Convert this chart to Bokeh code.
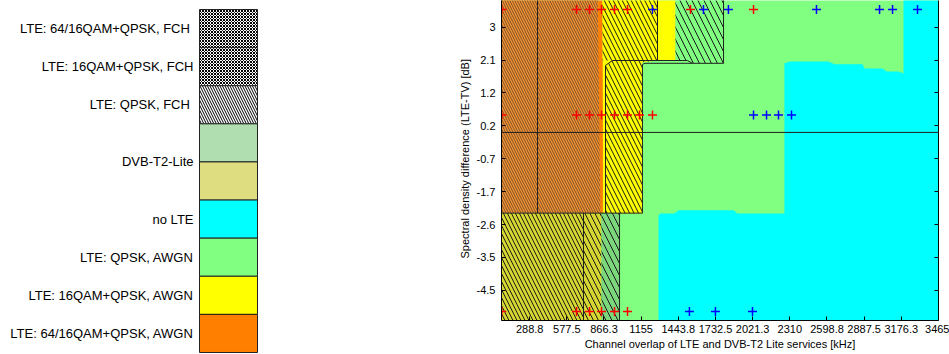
from bokeh.plotting import figure
from bokeh.layouts import row
from bokeh.models import Range1d, FixedTicker, LinearAxis, Span, ColumnDataSource, Title
from bokeh.core.properties import value
from bokeh.embed import file_html
from bokeh.resources import INLINE

FONT = "Liberation Sans"

# ---------------- legend (colour key) ----------------
legend_labels = [
    "LTE: 64/16QAM+QPSK,  FCH",
    "LTE: 16QAM+QPSK, FCH",
    "LTE: QPSK,  FCH",
    "",
    "",
    "no LTE",
    "LTE: QPSK, AWGN",
    "LTE: 16QAM+QPSK, AWGN",
    "LTE: 64/16QAM+QPSK, AWGN",
]
legend_fill = ["white", "white", "white", "#B0DEB0", "#DEDE80",
               "#00FFFF", "#80FF80", "#FFFF00", "#FF8000"]
legend_hatch = ["diagonal_cross", "diagonal_cross", "left_diagonal_line",
                " ", " ", " ", " ", " ", " "]
legend_hatch_scale = [3, 3, 5, 1, 1, 1, 1, 1, 1]
dvb_label = "DVB-T2-Lite"

# ---------------- axes ----------------
x_ticks = [288.75, 577.5, 866.25, 1155, 1443.75, 1732.5, 2021.25, 2310,
           2598.75, 2887.5, 3176.25, 3465]
x_tick_labels = ["288.8", "577.5", "866.3", "1155", "1443.8", "1732.5", "2021.3",
                 "2310", "2598.8", "2887.5", "3176.3", "3465"]
y_ticks = [-4.5, -3.5625, -2.625, -1.6875, -0.75, 0.1875, 1.125, 2.0625, 3.0]
y_tick_labels = ["-4.5", "-3.5", "-2.6", "-1.7", "-0.7", "0.2", "1.2", "2.1", "3"]

# ---------------- regions (kHz, dB) ----------------
no_lte_x = [1290, 1290, 1305, 1414, 1445, 1872, 1903, 2268, 2268, 2315, 2610, 2657,
            2875, 2890, 3030, 3061, 3154, 3193, 3193, 3470, 3470]
no_lte_y = [-5.5, -2.37, -2.31, -2.31, -2.22, -2.22, -2.31, -2.31, 1.97, 2.02, 2.02, 1.94,
            1.94, 1.82, 1.82, 1.74, 1.74, 1.68, 3.9, 3.9, -5.5]

awgn64_x = [60, 858, 858, 60]
awgn64_y = [3.9, 3.9, -2.3, -2.3]

awgn16_x = [855, 1422, 1422, 1150, 1150, 860]
awgn16_y = [3.9, 3.9, 2.05, 2.05, -2.3, -2.3]

fch64_a_x = [60, 350, 350, 60]
fch64_a_y = [3.9, 3.9, -2.3, -2.3]
fch64_b_x = [350, 818, 839, 350]
fch64_b_y = [3.9, 3.9, -2.3, -2.3]

fch16_x = [855, 1282, 1282, 1165, 1165, 878, 878, 932, 855]
fch16_y = [3.9, 3.9, 2.05, 2.0, -2.3, -2.3, 1.91, 2.05, 2.05]

fchq_x = [1422, 1795, 1795, 1554, 1515, 1422]
fchq_y = [3.9, 3.9, 1.97, 1.97, 2.05, 2.05]

dvb_a_x = [60, 707, 707, 60]
dvb_a_y = [-2.3, -2.3, -5.5, -5.5]
dvb_b_x = [707, 847, 847, 707]
dvb_b_y = [-2.3, -2.3, -5.5, -5.5]
dvb_c_x = [847, 987, 987, 847]
dvb_c_y = [-2.3, -2.3, -5.5, -5.5]

edge_xs = [
    [932, 1515, 1554, 1795, 1795],
    [1282, 1282],
    [932, 878, 878],
    [1165, 1165, 1185, 1554],
    [350, 350],
    [60, 1165],
    [707, 707],
    [987, 987],
]
edge_ys = [
    [2.05, 2.05, 1.97, 1.97, 3.9],
    [2.05, 3.9],
    [2.05, 1.91, -2.3],
    [-2.3, 1.94, 1.97, 1.97],
    [3.9, -2.3],
    [-2.3, -2.3],
    [-2.3, -5.5],
    [-2.3, -5.5],
]

# ---------------- measurement points ----------------
top_red_x = [72, 653, 754, 847, 948, 1049, 1538, 2028]
top_blue_x = [1243, 1639, 1833, 2517, 3007, 3108, 3302]
top_level = 3.5
mid_red_x = [72, 653, 754, 847, 948, 1049, 1142, 1243]
mid_blue_x = [2028, 2129, 2222, 2323]
mid_level = 0.5
low_red_x = [72, 653, 754, 847, 948, 1049]
low_blue_x = [1530, 1732, 2020]
low_level = -5.1

# ================= legend figure =================
lg = figure(width=430, height=354, x_range=Range1d(0, 430), y_range=Range1d(354, 0),
            output_backend="svg", toolbar_location=None, min_border=0,
            min_border_left=0, min_border_right=0, min_border_top=0, min_border_bottom=0,
            x_axis_type=None, y_axis_type=None, outline_line_color=None)
lg.frame_align = False
row_top0, row_h = 9.0, 38.11
tops = [row_top0 + i * row_h for i in range(len(legend_labels))]
src = ColumnDataSource(dict(
    top=tops, bottom=[t + row_h for t in tops], fill=legend_fill,
    hatch=legend_hatch, hscale=legend_hatch_scale,
    label=legend_labels, ty=[t + row_h / 2 for t in tops],
))
lg.quad(left=199, right=257, top="top", bottom="bottom", source=src,
        fill_color="fill", line_color="#222222", line_width=1,
        hatch_pattern="hatch", hatch_scale="hscale", hatch_color="black", hatch_weight=1)
lg.text(x=193, y="ty", text="label", source=src, text_align="right",
        text_baseline="middle", text_font=value(FONT), text_font_size="13px",
        text_color="black")
lg.text(x=[193], y=[row_top0 + 4 * row_h], text=[dvb_label], text_align="right",
        text_baseline="middle", text_font=value(FONT), text_font_size="13px",
        text_color="black")

# ================= chart figure =================
p = figure(width=519, height=354, x_range=Range1d(70, 3465), y_range=Range1d(-5.36, 3.76),
           output_backend="svg", toolbar_location=None,
           min_border_left=71, min_border_right=11, min_border_top=0, min_border_bottom=34,
           background_fill_color="#80FF80", border_fill_color="white",
           outline_line_color=None)
p.frame_align = False
p.grid.visible = False

p.patch(no_lte_x, no_lte_y, fill_color="#00FFFF", line_color=None)
p.patch(awgn64_x, awgn64_y, fill_color="#FF8000", line_color=None)
p.patch(awgn16_x, awgn16_y, fill_color="#FFFF00", line_color=None)

hatch_kw = dict(hatch_pattern="left_diagonal_line", hatch_color="#1a1a1a", hatch_weight=1)
p.patch(fch64_a_x, fch64_a_y, fill_color="#F29234", line_color=None, hatch_scale=5,
        hatch_alpha=0.55, **hatch_kw)
p.patch(fch64_b_x, fch64_b_y, fill_color="#F29234", line_color=None, hatch_scale=5,
        hatch_alpha=0.55, **hatch_kw)
p.patch(fch16_x, fch16_y, fill_color="#FFFF00", line_color=None, hatch_scale=9, **hatch_kw)
p.patch(fchq_x, fchq_y, fill_color="#80FF80", line_color=None, hatch_scale=12, **hatch_kw)
p.patch(dvb_a_x, dvb_a_y, fill_color="#D6D632", line_color=None, hatch_scale=8, **hatch_kw)
p.patch(dvb_b_x, dvb_b_y, fill_color="#D6D632", line_color=None, hatch_scale=10, **hatch_kw)
p.patch(dvb_c_x, dvb_c_y, fill_color="#7CD67C", line_color=None, hatch_scale=12, **hatch_kw)

p.multi_line(edge_xs, edge_ys, line_color="#202020", line_width=1)

p.add_layout(Span(location=0, dimension="width", line_color="#202020", line_width=1))

cross_kw = dict(marker="cross", size=9, line_width=1.5)
p.scatter(top_red_x, [top_level] * len(top_red_x), line_color="#FF0000", **cross_kw)
p.scatter(top_blue_x, [top_level] * len(top_blue_x), line_color="#0000FF", **cross_kw)
p.scatter(mid_red_x, [mid_level] * len(mid_red_x), line_color="#FF0000", **cross_kw)
p.scatter(mid_blue_x, [mid_level] * len(mid_blue_x), line_color="#0000FF", **cross_kw)
p.scatter(low_red_x, [low_level] * len(low_red_x), line_color="#FF0000", **cross_kw)
p.scatter(low_blue_x, [low_level] * len(low_blue_x), line_color="#0000FF", **cross_kw)

# bottom axis
xa = p.xaxis[0]
xa.ticker = FixedTicker(ticks=x_ticks)
xa.major_label_overrides = dict(zip(x_ticks, x_tick_labels))
xa.axis_label = "Channel overlap of LTE and DVB-T2 Lite services [kHz]"
xa.axis_label_standoff = 2

# left axis
ya = p.yaxis[0]
ya.ticker = FixedTicker(ticks=y_ticks)
ya.major_label_overrides = dict(zip(y_ticks, y_tick_labels))

for ax in (xa, ya):
    ax.major_tick_in = 4
    ax.major_tick_out = 0
    ax.minor_tick_line_color = None
    ax.axis_line_color = "black"
    ax.major_tick_line_color = "black"
    ax.major_label_text_font = FONT
    ax.major_label_text_font_size = "11px"
    ax.major_label_text_color = "black"
    ax.axis_label_text_font = FONT
    ax.axis_label_text_font_style = "normal"
    ax.axis_label_text_font_size = "11px"
    ax.axis_label_text_color = "black"
xa.major_label_standoff = 4
ya.major_label_standoff = 6

# y title placed as a side title so it can sit slightly above the frame centre
p.add_layout(Title(text="Spectral density difference (LTE-TV) [dB]", align="left",
                   offset=62, standoff=6, text_font=FONT, text_font_size="11px",
                   text_font_style="normal", text_color="black"), "left")

# right frame edge with inward ticks, no labels
ra = LinearAxis(ticker=FixedTicker(ticks=y_ticks),
                major_label_overrides={t: "" for t in y_ticks},
                major_tick_in=4, major_tick_out=0, minor_tick_line_color=None,
                major_label_standoff=0, axis_line_color="black")
p.add_layout(ra, "right")

layout = row(lg, p)
open("out.html", "w").write(file_html(layout, INLINE))
